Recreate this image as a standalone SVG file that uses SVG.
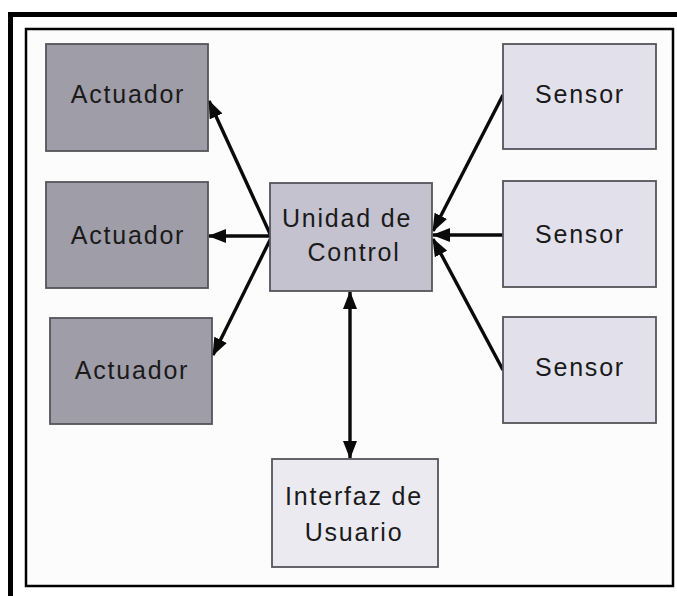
<svg xmlns="http://www.w3.org/2000/svg" width="677" height="596" viewBox="0 0 677 596">
<defs>
<style>
.box{stroke:#555459;stroke-width:1.8}
.act{fill:#9f9da7}
.ctl{fill:#c4c2cf}
.sen{fill:#e2e1eb}
.ui{fill:#ebeaf1}
.t{font-family:"Liberation Sans",Arial,sans-serif;font-size:25px;fill:#1a1a1a;text-anchor:middle;letter-spacing:1.8px}
.c{stroke:#0a0a0a;stroke-width:3.4;fill:none}
</style>
<marker id="ah" markerUnits="userSpaceOnUse" markerWidth="18" markerHeight="14" refX="17" refY="7" orient="auto-start-reverse">
<path d="M0,0 L18,7 L0,14 Z" fill="#0a0a0a"/>
</marker>
</defs>
<rect x="0" y="0" width="677" height="596" fill="#ffffff"/>
<path d="M10.5,596 V14.5 H677" fill="none" stroke="#000" stroke-width="5"/>
<rect x="26" y="29" width="647" height="557" fill="#fcfcfc" stroke="#000" stroke-width="2.5"/>
<g id="connectors">
<line class="c" x1="271" y1="236" x2="209" y2="101" marker-end="url(#ah)"/>
<line class="c" x1="271" y1="236" x2="209" y2="236" marker-end="url(#ah)"/>
<line class="c" x1="271" y1="238" x2="213" y2="355" marker-end="url(#ah)"/>
<line class="c" x1="503" y1="95" x2="433" y2="231" marker-end="url(#ah)"/>
<line class="c" x1="503" y1="235" x2="433" y2="235" marker-end="url(#ah)"/>
<line class="c" x1="503" y1="370" x2="433" y2="239" marker-end="url(#ah)"/>
<line class="c" x1="350" y1="292" x2="350" y2="458" marker-start="url(#ah)" marker-end="url(#ah)"/>
</g>
<g id="actuador1"><rect class="box act" x="46" y="44" width="162" height="107"/><text class="t" x="128" y="103">Actuador</text></g>
<g id="actuador2"><rect class="box act" x="46" y="182" width="162" height="106"/><text class="t" x="128" y="244">Actuador</text></g>
<g id="actuador3"><rect class="box act" x="50" y="318" width="162" height="106"/><text class="t" x="132" y="379">Actuador</text></g>
<g id="control"><rect class="box ctl" x="270" y="183" width="162" height="108"/><text class="t" x="347" y="227">Unidad de</text><text class="t" x="354" y="261">Control</text></g>
<g id="sensor1"><rect class="box sen" x="503" y="44" width="153" height="105"/><text class="t" x="580" y="103">Sensor</text></g>
<g id="sensor2"><rect class="box sen" x="503" y="181" width="153" height="106"/><text class="t" x="580" y="243">Sensor</text></g>
<g id="sensor3"><rect class="box sen" x="503" y="317" width="153" height="106"/><text class="t" x="580" y="376">Sensor</text></g>
<g id="interfaz"><rect class="box ui" x="272" y="459" width="166" height="108"/><text class="t" x="354" y="505">Interfaz de</text><text class="t" x="354" y="541">Usuario</text></g>
</svg>
